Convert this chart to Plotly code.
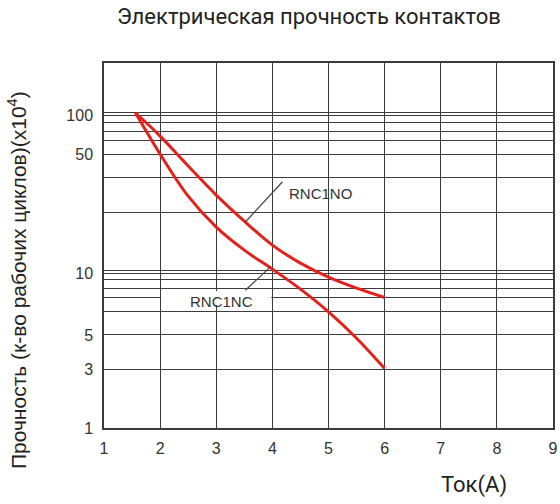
import plotly.graph_objects as go

# Current (A)
x_no = [1.56, 2.0, 2.5, 3.0, 3.5, 4.0, 4.5, 5.0, 5.5, 6.0]
y_no = [103.9, 73.7, 47.4, 30.9, 21.05, 14.78, 11.34, 9.22, 7.84, 6.84]

x_nc = [1.56, 2.0, 2.5, 3.0, 3.5, 4.0, 4.5, 5.0, 5.5, 6.0]
y_nc = [103.9, 56.5, 30.4, 19.27, 13.73, 10.38, 7.73, 5.53, 3.75, 2.40]

# labelled horizontal grid lines (values on the log axis) and their labels
y_tick_vals = [100, 56.5, 9.74, 3.94, 2.38, 1]
y_tick_text = ["100", "50", "10", "5", "3", "1"]
# unlabelled grid lines of the chart paper
y_minor_grid = [103.9, 89.7, 79, 69.2, 40.1, 24.0, 10.2, 8.92, 7.76, 6.84, 5.59]
x_ticks = [1, 2, 3, 4, 5, 6, 7, 8, 9]

RED = "#e3221c"
GRID = "#3c3c3c"
TXT = "#333333"

fig = go.Figure()
fig.add_trace(go.Scatter(x=x_no, y=y_no, mode="lines", name="RNC1NO",
                         line=dict(color=RED, width=3, shape="spline", smoothing=1.0)))
fig.add_trace(go.Scatter(x=x_nc, y=y_nc, mode="lines", name="RNC1NC",
                         line=dict(color=RED, width=3, shape="spline", smoothing=1.0)))

# white gap behind the RNC1NC label
fig.add_shape(type="rect", x0=2.02, x1=3.98, y0=6.1, y1=7.5, xref="x", yref="y",
              fillcolor="white", line=dict(width=0), layer="between")
# leader lines
fig.add_shape(type="line", x0=3.52, y0=20.8, x1=4.18, y1=37.6,
              line=dict(color="#444444", width=1.2), layer="above")
fig.add_shape(type="line", x0=3.52, y0=7.61, x1=3.96, y1=10.69,
              line=dict(color="#444444", width=1.2), layer="above")

fig.add_annotation(x=4.26, y=1.5026, xref="x", yref="y", text="RNC1NO",
                   showarrow=False, xanchor="left", yanchor="middle",
                   font=dict(family="Liberation Sans, Arial", size=15, color=TXT))
fig.add_annotation(x=3.09, y=0.8067, xref="x", yref="y", text="RNC1NC",
                   showarrow=False, xanchor="center", yanchor="middle",
                   font=dict(family="Liberation Sans, Arial", size=15, color=TXT))

# titles
fig.add_annotation(x=0.456, y=1.127, xref="paper", yref="paper",
                   text="Электрическая прочность контактов", showarrow=False,
                   xanchor="center", yanchor="middle",
                   font=dict(family="Roboto", size=22, color="#222222"))
fig.add_annotation(x=-0.194, y=0.405, xref="paper", yref="paper",
                   text="Прочность (к-во рабочих циклов)(x10<sup>4</sup>)",
                   textangle=-90, showarrow=False, xanchor="center", yanchor="middle",
                   font=dict(family="Liberation Sans, Arial", size=21, color="#222222"))
fig.add_annotation(x=0.824, y=-0.157, xref="paper", yref="paper", text="Ток(A)",
                   showarrow=False, xanchor="center", yanchor="middle",
                   font=dict(family="Roboto", size=22, color="#222222"))

fig.update_layout(
    width=560, height=504,
    margin=dict(l=104, r=2, t=63, b=76),
    paper_bgcolor="white", plot_bgcolor="white",
    showlegend=False,
)
fig.update_xaxes(range=[1, 9], tickvals=x_ticks, ticktext=[str(v) for v in x_ticks],
                 showgrid=True, gridcolor=GRID, gridwidth=1.3,
                 showline=True, linecolor=GRID, linewidth=1.5, mirror=True,
                 zeroline=False, ticks="", ticklabelstandoff=5,
                 ticklabeloverflow="allow",
                 tickfont=dict(family="Liberation Sans, Arial", size=16, color=TXT))
fig.update_yaxes(type="log", range=[0, 2.3349], tickvals=y_tick_vals, ticktext=y_tick_text,
                 showgrid=True, gridcolor=GRID, gridwidth=1.3,
                 minor=dict(tickvals=y_minor_grid, showgrid=True, gridcolor=GRID,
                            gridwidth=1.3, ticks=""),
                 showline=True, linecolor=GRID, linewidth=1.5, mirror=True,
                 zeroline=False, ticks="", ticklabelstandoff=6,
                 tickfont=dict(family="Liberation Sans, Arial", size=16, color=TXT))

fig.write_html("out.html", config={"displayModeBar": False},
               post_script="document.body.style.margin='0px';document.body.style.overflow='hidden';")
